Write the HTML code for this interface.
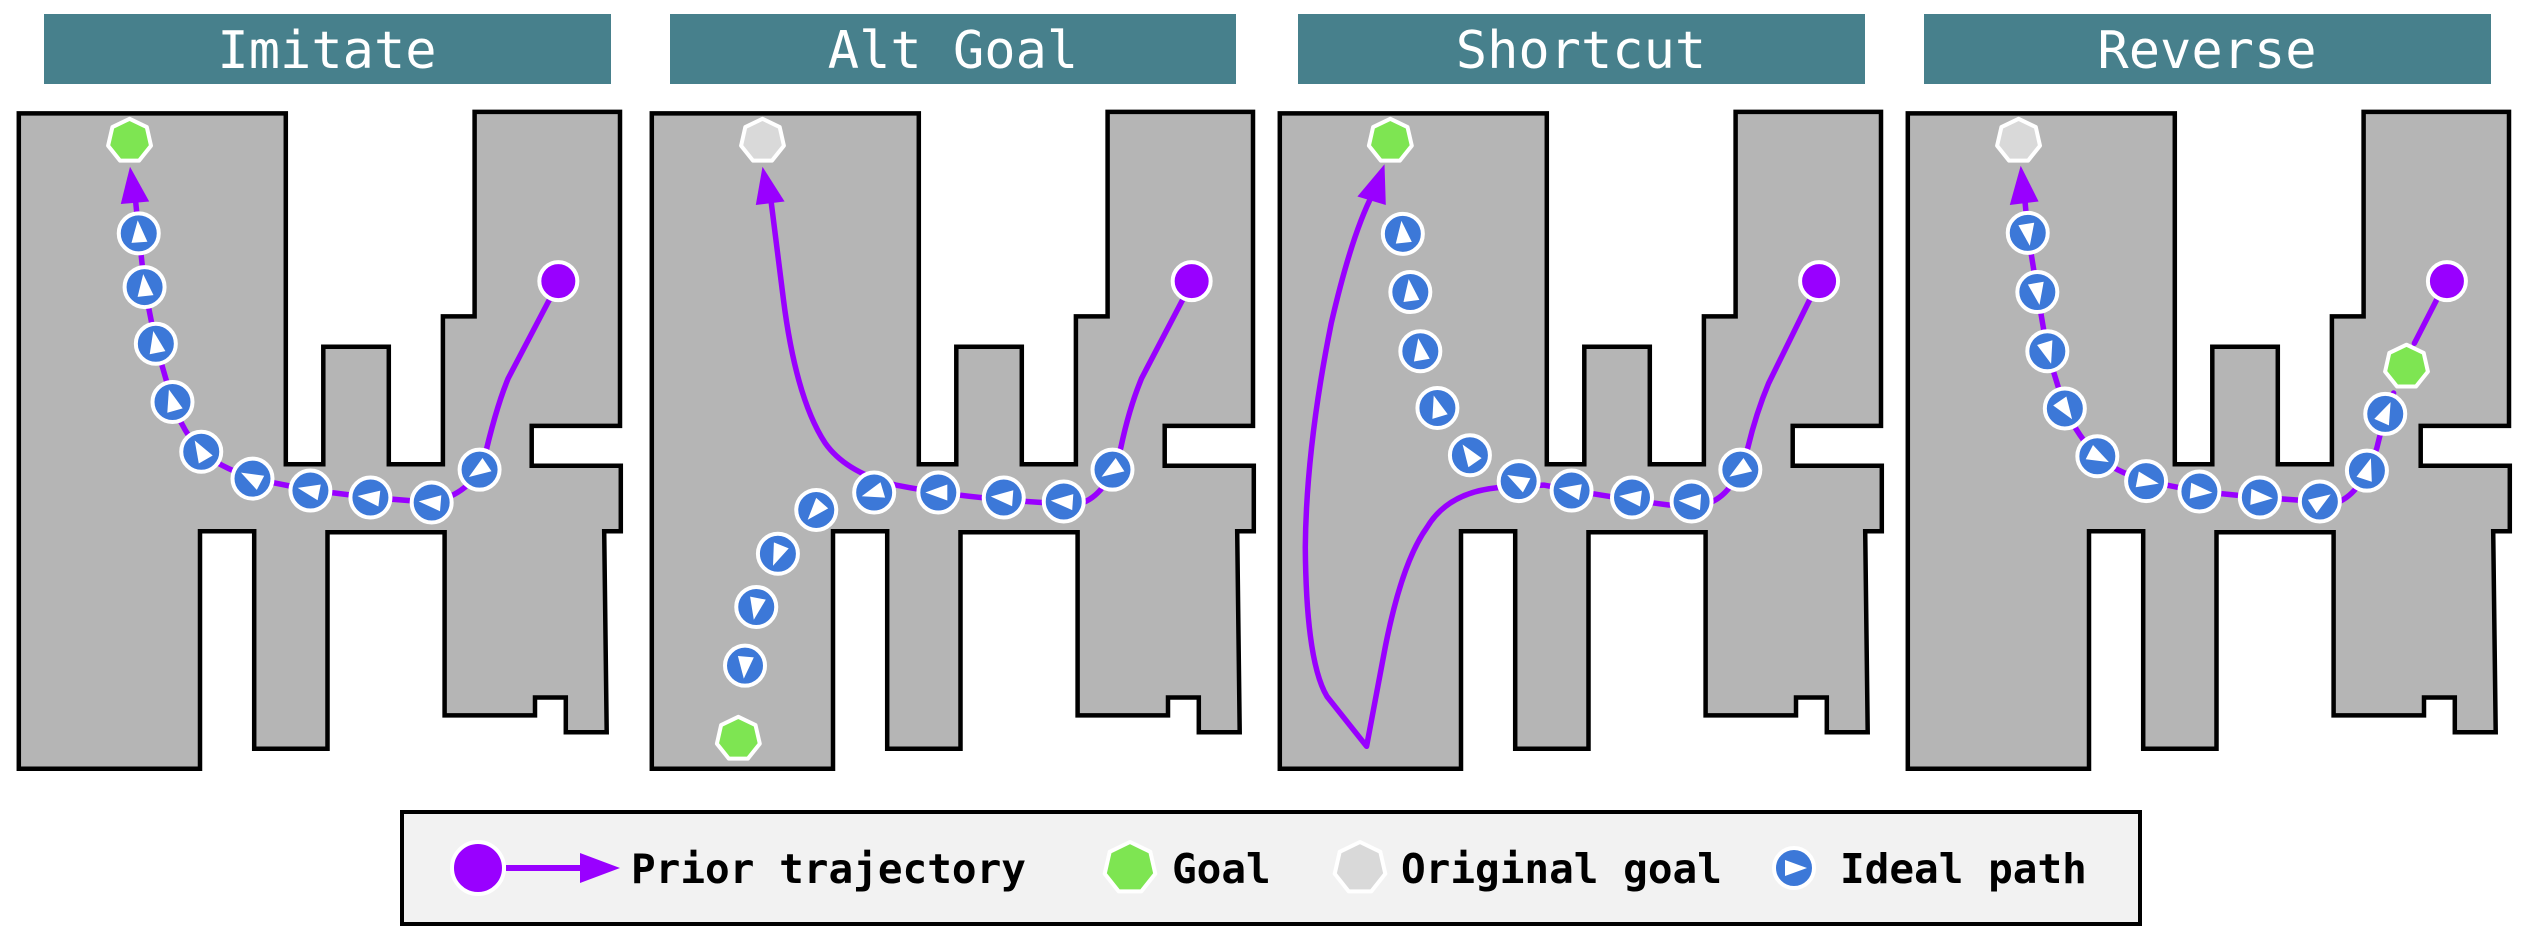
<!DOCTYPE html>
<html><head><meta charset="utf-8">
<style>
html,body{margin:0;padding:0;background:#fff;}
svg{display:block;}
</style></head>
<body>
<svg id="s" xmlns="http://www.w3.org/2000/svg" width="2531" height="948" viewBox="0 0 2531 948">
<rect x="0" y="0" width="2531" height="948" fill="#fff"/>
<g id="maps"></g>
<g id="heads" font-family="'DejaVu Sans Mono','Liberation Mono',monospace" font-size="52" fill="#fff" text-anchor="middle">
<rect x="44" y="14" width="567" height="70" fill="#47808c"/>
<text x="327" y="68">Imitate</text>
<rect x="670" y="14" width="566" height="70" fill="#47808c"/>
<text x="953" y="68">Alt Goal</text>
<rect x="1298" y="14" width="567" height="70" fill="#47808c"/>
<text x="1581" y="68">Shortcut</text>
<rect x="1924" y="14" width="567" height="70" fill="#47808c"/>
<text x="2207" y="68">Reverse</text>
</g>
<g id="legend">
<rect x="402" y="812" width="1738" height="112" fill="#f2f2f2" stroke="#000" stroke-width="4"/>
<circle cx="478" cy="868" r="26" fill="#9900ff" stroke="#fff" stroke-width="4"/>
<line x1="506" y1="868" x2="590" y2="868" stroke="#9900ff" stroke-width="6"/>
<polygon points="580,853 620,868 580,883" fill="#9900ff"/>
<g font-family="'DejaVu Sans Mono','Liberation Mono',monospace" font-weight="bold" font-size="41" fill="#000">
<text x="631" y="883">Prior trajectory</text>
<text x="1172" y="883">Goal</text>
<text x="1401" y="883">Original goal</text>
<text x="1840" y="883">Ideal path</text>
</g>
<g id="leg2"></g>
</g>
</svg>
<script>
(function(){
var NS="http://www.w3.org/2000/svg";
var sx=1/2.4, sy=1/2.01;
function el(tag,attrs,parent){var e=document.createElementNS(NS,tag);for(var k in attrs)e.setAttribute(k,attrs[k]);(parent||document.getElementById('maps')).appendChild(e);return e;}
function P(o,x,y){return [o+x*sx,y*sy];}
function tpath(o,d){return d.replace(/(-?\d+\.?\d*),(-?\d+\.?\d*)/g,function(m,a,b){var p=P(o,+a,+b);return p[0].toFixed(1)+","+p[1].toFixed(1);});}
var mapPts=[[45,228],[686,228],[686,933],[776,933],[776,697],[933,697],[933,933],[1063,933],[1063,636],[1139,636],[1139,225],[1488,225],[1488,856],[1276,856],[1276,936],[1490,936],[1490,1068],[1450,1068],[1456,1472],[1358,1472],[1358,1402],[1284,1402],[1284,1438],[1067,1438],[1067,1070],[786,1070],[786,1505],[610,1505],[610,1068],[480,1068],[480,1545],[45,1545]];
function hept(cx,cy,r,fill,parent){var pts=[];for(var i=0;i<7;i++){var a=-Math.PI/2+i*2*Math.PI/7;pts.push((cx+r*Math.cos(a)).toFixed(1)+","+(cy+r*Math.sin(a)).toFixed(1));}el('polygon',{points:pts.join(' '),fill:fill,stroke:'#fff','stroke-width':4,'stroke-linejoin':'round'},parent);}
function marker(cx,cy,ang,parent){el('circle',{cx:cx,cy:cy,r:20,fill:'#3c78d8',stroke:'#fff','stroke-width':4},parent);
 var c=Math.cos(ang),s=Math.sin(ang);function R(x,y){return (cx+x*c-y*s).toFixed(1)+","+(cy+x*s+y*c).toFixed(1);}
 el('polygon',{points:[R(13,0),R(-9,-8),R(-9,8)].join(' '),fill:'#fff'},parent);}
function panel(mapOff,o,cfg){
 var pts=mapPts.map(function(p){var q=P(mapOff,p[0],p[1]);return q[0].toFixed(1)+","+q[1].toFixed(1);}).join(' ');
 el('polygon',{points:pts,fill:'#b5b5b5',stroke:'#000','stroke-width':4.5,'stroke-linejoin':'miter'});
 el('path',{d:tpath(o,cfg.path),fill:'none',stroke:'#9900ff','stroke-width':5.5,'stroke-linecap':'round','stroke-linejoin':'round'});
 if(cfg.path2)el('path',{d:tpath(o,cfg.path2),fill:'none',stroke:'#9900ff','stroke-width':5.5,'stroke-linecap':'round'});
 el('polygon',{points:tpath(o,cfg.arrow),fill:'#9900ff'});
 var st=P(o,cfg.start[0],cfg.start[1]);el('circle',{cx:st[0],cy:st[1],r:19,fill:'#9900ff',stroke:'#fff','stroke-width':4});
 cfg.goals.forEach(function(g){var q=P(o,g[0],g[1]);hept(q[0],q[1],22,g[2]);});
 var m=cfg.markers.map(function(p){return P(o,p[0],p[1]);});var nx=P(o,cfg.next[0],cfg.next[1]);
 for(var i=0;i<m.length;i++){var n=(i+1<m.length)?m[i+1]:nx;var a=Math.atan2(n[1]-m[i][1],n[0]-m[i][0]);marker(m[i][0],m[i][1],a);}
}
var G='#7ee552',O='#d9d9d9';
panel(0,0,{
 path:"M1320,600 L1220,760 Q1190,820 1160,930 Q1130,990 1040,1010 L890,1000 L745,985 L606,962 Q520,935 483,908 Q440,870 414,808 L374,691 L347,577 L333,469 L325,400",
 arrow:"312,335 290,410 358,405",start:[1340,565],goals:[[311,283,G]],
 markers:[[1151,944],[1036,1010],[889,1000],[745,986],[606,962],[483,908],[414,808],[374,691],[347,577],[333,469]],next:[320,330]});
panel(633,625,{
 path:"M1340,600 L1240,760 Q1210,820 1190,900 Q1160,990 1100,1010 L1000,1010 Q800,1000 650,975 Q530,950 480,890 Q410,800 380,600 L350,400",
 arrow:"330,335 314,412 383,405",start:[1360,565],goals:[[330,283,O],[272,1485,G]],
 markers:[[1170,944],[1053,1008],[909,1000],[752,990],[598,990],[459,1025],[367,1113],[315,1220],[288,1338]],next:[272,1485]});
panel(1261,1252,{
 path:"M1340,600 L1240,770 Q1210,830 1190,900 Q1160,990 1100,1010 L1000,1015 Q860,1000 700,975 L590,980 Q470,990 420,1060 Q360,1130 320,1300 L275,1500 L180,1400 Q130,1330 128,1100 Q130,900 190,650 Q240,470 290,390",
 arrow:"318,330 253,395 321,412",start:[1361,565],goals:[[332,283,G]],
 markers:[[1172,944],[1055,1008],[912,1000],[767,986],[640,967],[523,915],[445,820],[404,706],[380,587],[362,470]],next:[340,300]});
panel(1889,1879,{
 path:"M1235,790 L1215,832 L1195,900 Q1160,990 1100,1010 L1058,1008 L914,1000 L769,988 L641,967 Q560,945 524,917 Q480,880 446,821 L404,706 L380,587 L357,468 L350,400",
 path2:"M1340,600 L1285,690",
 arrow:"340,333 314,412 383,405",start:[1363,565],goals:[[335,283,O],[1266,737,G]],
 markers:[[357,468],[380,587],[404,706],[446,821],[524,917],[641,967],[769,988],[914,1000],[1058,1008],[1171,946],[1215,832]],next:[1266,737]});
var lg=document.getElementById('leg2');
hept(1130,868,26,G,lg);hept(1360,868,26,O,lg);marker(1794,868,0,lg);
})();
</script>
</body></html>
